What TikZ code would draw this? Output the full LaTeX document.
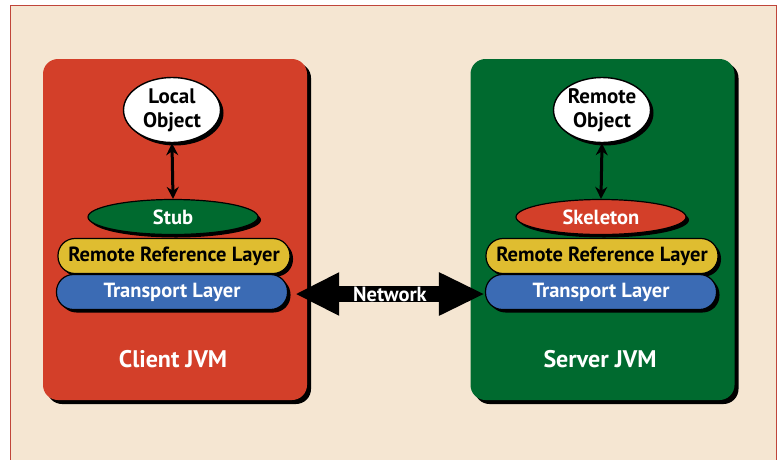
\documentclass[tikz,border=0pt]{standalone}
\usepackage{fontspec}
\setmainfont{PT Sans}
\usetikzlibrary{shapes.geometric,arrows.meta,calc}

\definecolor{paper}{HTML}{F5E6D2}
\definecolor{framered}{HTML}{C0453A}
\definecolor{jvmred}{HTML}{D33F29}
\definecolor{jvmgreen}{HTML}{006A2F}
\definecolor{refyellow}{HTML}{DFBD30}
\definecolor{transblue}{HTML}{3B6BB4}

\tikzset{
  x=1pt, y=-1pt,
  txt/.style={font=\bfseries\fontsize{20.5}{24}\selectfont},
  biglabel/.style={font=\bfseries\fontsize{24}{28}\selectfont, text=white},
  jvmbox/.style={rectangle, rounded corners=15pt, inner sep=0pt,
    minimum width=264pt, minimum height=341pt,
    preaction={fill=black, transform canvas={shift={(4pt,-4pt)}}}},
  objnode/.style={ellipse, draw=black, line width=1.4pt, fill=white, inner sep=0pt,
    minimum width=97pt, minimum height=65pt, align=center,
    font=\bfseries\fontsize{21}{24}\selectfont,
    preaction={fill=black, transform canvas={shift={(3pt,-3pt)}}}},
  proxynode/.style={ellipse, draw=black, line width=1.2pt, inner sep=0pt,
    minimum width=170pt, minimum height=35pt, txt, text=white,
    preaction={fill=black, transform canvas={shift={(3pt,-3pt)}}}},
  layernode/.style={rectangle, rounded corners=17pt, draw=black, line width=1.2pt,
    inner sep=0pt, minimum width=231pt, minimum height=35pt, txt,
    preaction={fill=black, transform canvas={shift={(3pt,-3pt)}}}},
  callarrow/.style={line width=3pt, {Stealth[length=12pt,width=12pt]}-{Stealth[length=12pt,width=12pt]}},
  netarrow/.style={line width=16pt,
    {Triangle[length=44pt,width=40pt]}-{Triangle[length=46pt,width=40pt]}},
}

\begin{document}
\begin{tikzpicture}
\useasboundingbox (0,0) rectangle (779,459);
% page and frame
\fill[white] (0,0) rectangle (779,459);
\fill[paper] (10,5) rectangle (776,470);
\draw[framered, line width=1pt] (10,470) -- (10,5) -- (776,5) -- (776,470);

% client side
\node[jvmbox, fill=jvmred] (client) at (175,229.5) {};
\node[biglabel] (clientlabel) at (173,359) {Client JVM};
\node[objnode] (local) at (172,110) {Local\\Object};
\node[proxynode, fill=jvmgreen] (stub) at (173,217) {Stub};
\node[layernode, fill=refyellow, minimum width=232pt] (rrlA) at (174,256) {Remote Reference Layer};
\node[layernode, fill=transblue, text=white] (tlA) at (172,292) {Transport Layer};
\draw[callarrow] (local.south) -- (stub.north);

% server side
\node[jvmbox, fill=jvmgreen] (server) at (602.5,229.5) {};
\node[biglabel] (serverlabel) at (600,359) {Server JVM};
\node[objnode] (remote) at (602,110) {Remote\\Object};
\node[proxynode, fill=jvmred] (skel) at (601,217) {Skeleton};
\node[layernode, fill=refyellow, minimum width=232pt] (rrlB) at (602,256) {Remote Reference Layer};
\node[layernode, fill=transblue, text=white] (tlB) at (601,292) {Transport Layer};
\draw[callarrow] (remote.south) -- (skel.north);

% network link between the transport layers
\coordinate (netL) at ($(tlA.east)+(7,2)$);
\coordinate (netR) at ($(tlB.west)+(0,2)$);
\draw[netarrow] (netL) -- (netR);
\node[txt, text=white] (net) at ($(netL)!0.5!(netR)$) {Network};
\end{tikzpicture}
\end{document}
